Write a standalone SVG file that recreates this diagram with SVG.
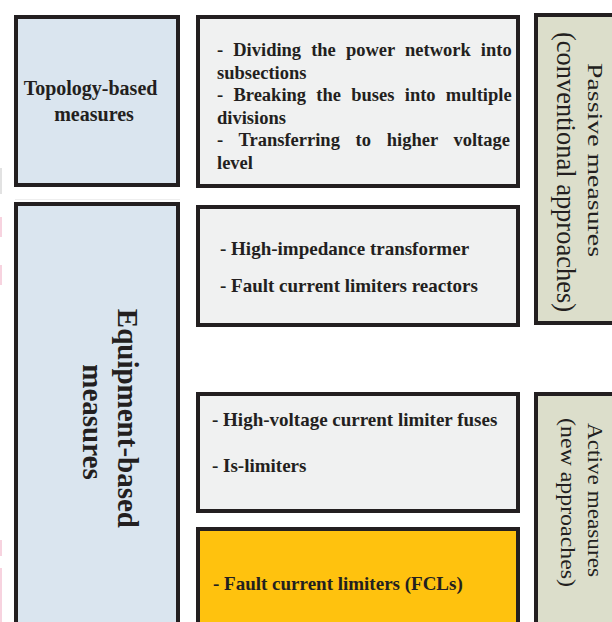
<svg xmlns="http://www.w3.org/2000/svg" width="612" height="622" viewBox="0 0 612 622">
  <style>
    .box { stroke: #231f20; stroke-width: 4; }
    .blue { fill: #dae5ef; }
    .grey { fill: #f0f1f1; }
    .khaki { fill: #dcdecb; }
    .gold { fill: #ffc20e; }
    text { font-family: "Liberation Serif", "Times New Roman", serif; fill: #231f20; }
    .b { font-weight: bold; }
    .list { font-weight: bold; font-size: 19px; }
    .list2 { font-weight: bold; font-size: 18.5px; }
  </style>
  <rect x="0" y="0" width="612" height="622" fill="#ffffff"/>
  <g id="edge-marks">
    <rect x="0" y="168" width="2" height="26" fill="#e2e2e2"/>
    <rect x="0" y="217" width="2" height="20" fill="#f7d3df"/>
    <rect x="0" y="265" width="2" height="20" fill="#f7d3df"/>
    <rect x="0" y="540" width="2" height="16" fill="#f7d3df"/>
    <rect x="0" y="568" width="2" height="54" fill="#f7d3df"/>
    <rect x="15" y="199" width="165" height="1" fill="#eeeeee"/>
  </g>
  <g id="topology">
    <rect class="box blue" x="16" y="17" width="162" height="168"/>
    <text class="b" font-size="20" text-anchor="middle">
      <tspan x="93" y="95">Topology-based</tspan>
      <tspan x="94" y="121">measures</tspan>
    </text>
  </g>
  <g id="equipment">
    <rect class="box blue" x="16" y="204" width="162" height="430"/>
    <text class="b" font-size="29" text-anchor="middle" transform="translate(118,422) rotate(90)">
      <tspan x="0" y="0">Equipment-based</tspan>
      <tspan x="0" y="35">measures</tspan>
    </text>
  </g>
  <g id="topology-list">
    <rect class="box grey" x="198" y="17" width="320" height="169"/>
    <text class="list2" x="217" y="56" word-spacing="5.45">- Dividing the power network into</text>
    <text class="list2" x="217" y="79">subsections</text>
    <text class="list2" x="217" y="101" word-spacing="5.65">- Breaking the buses into multiple</text>
    <text class="list2" x="217" y="124">divisions</text>
    <text class="list2" x="217" y="146" word-spacing="11.07">- Transferring to higher voltage</text>
    <text class="list2" x="217" y="169">level</text>
  </g>
  <g id="passive-list">
    <rect class="box grey" x="198" y="207" width="320" height="118"/>
    <text class="list" x="220" y="255">- High-impedance transformer</text>
    <text class="list" x="220" y="292">- Fault current limiters reactors</text>
  </g>
  <g id="active-list">
    <rect class="box grey" x="198" y="394" width="320" height="117"/>
    <text class="list" x="212" y="426">- High-voltage current limiter fuses</text>
    <text class="list" x="212" y="472">- Is-limiters</text>
  </g>
  <g id="fcl">
    <rect class="box gold" x="198" y="529" width="320" height="110"/>
    <text class="list" x="213" y="590">- Fault current limiters (FCLs)</text>
  </g>
  <g id="passive">
    <rect class="box khaki" x="536" y="15" width="90" height="308"/>
    <text font-size="21" transform="translate(588,63) rotate(90)" textLength="194" lengthAdjust="spacingAndGlyphs">Passive measures</text>
    <text font-size="27" transform="translate(557,32) rotate(90)" textLength="280" lengthAdjust="spacingAndGlyphs">(conventional approaches)</text>
  </g>
  <g id="active">
    <rect class="box khaki" x="536" y="394" width="90" height="240"/>
    <text font-size="21" transform="translate(588,423) rotate(90)" textLength="154" lengthAdjust="spacingAndGlyphs">Active measures</text>
    <text font-size="20" transform="translate(561,418) rotate(90)" textLength="169" lengthAdjust="spacingAndGlyphs">(new approaches)</text>
  </g>
  <g id="connectors"/>
</svg>
